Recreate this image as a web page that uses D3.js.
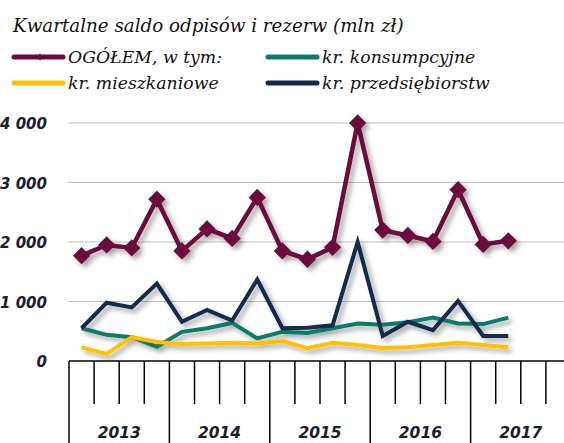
<!DOCTYPE html>
<html>
<head>
<meta charset="utf-8">
<script src="https://cdn.jsdelivr.net/npm/d3@7"></script>
<style>
  html, body { margin: 0; padding: 0; background: #fff; }
  svg { display: block; }
</style>
</head>
<body>
<svg id="chart" width="564" height="443"></svg>
<script>
// ---- data ----
const years = ["2013", "2014", "2015", "2016", "2017"];
const quarters = [];
years.forEach(y => [1, 2, 3, 4].forEach(q => quarters.push(y + "Q" + q)));
const dataQuarters = quarters.slice(0, 18);

const ogolem        = [1770, 1950, 1900, 2720, 1850, 2220, 2060, 2750, 1850, 1710, 1910, 4000, 2200, 2110, 2010, 2880, 1960, 2020];
const konsumpcyjne  = [550, 440, 400, 240, 490, 550, 640, 380, 490, 470, 550, 630, 610, 650, 730, 630, 620, 730];
const mieszkaniowe  = [230, 120, 400, 320, 285, 295, 305, 295, 335, 215, 305, 270, 220, 230, 270, 305, 270, 230];
const przedsiebiorstw = [550, 980, 900, 1300, 660, 860, 680, 1370, 550, 560, 600, 2000, 420, 660, 520, 1010, 420, 420];
const yTicks = [0, 1000, 2000, 3000, 4000];

const titleText = "Kwartalne saldo odpisów i rezerw (mln zł)";
const legendItems = [
  { name: "OGÓŁEM, w tym:", color: "#6B0A3C", marker: true, col: 0, row: 0 },
  { name: "kr. konsumpcyjne", color: "#0E7A6A", marker: false, col: 1, row: 0 },
  { name: "kr. mieszkaniowe", color: "#FFC000", marker: false, col: 0, row: 1 },
  { name: "kr. przedsiębiorstw", color: "#13294B", marker: false, col: 1, row: 1 }
];

const series = [
  { values: konsumpcyjne, color: "#0E7A6A" },
  { values: mieszkaniowe, color: "#FFC000" },
  { values: przedsiebiorstw, color: "#13294B" },
  { values: ogolem, color: "#6B0A3C", marker: true }
];

// ---- layout ----
const svg = d3.select("#chart");
const plotLeft = 69, plotRight = 571, yZero = 361, yTop = 123;

const x = d3.scaleBand().domain(quarters).range([plotLeft, plotRight]).paddingInner(0).paddingOuter(0);
const y = d3.scaleLinear().domain([0, 4000]).range([yZero, yTop]);

const defs = svg.append("defs");
const f = defs.append("filter").attr("id", "shadow")
  .attr("x", "-20%").attr("y", "-20%").attr("width", "140%").attr("height", "140%");
f.append("feDropShadow").attr("dx", 3.5).attr("dy", 3.5).attr("stdDeviation", 2.4)
  .attr("flood-color", "#000").attr("flood-opacity", 0.35);

// title
const serif = "'DejaVu Serif', 'Liberation Serif', serif";
const title = svg.append("text")
  .attr("x", 13).attr("y", 32)
  .style("font-family", serif).style("font-style", "italic")
  .style("font-size", "20px").style("fill", "#111")
  .text(titleText);
(function fit(){
  const w = title.node().getComputedTextLength();
  title.style("font-size", (20 * 391 / w) + "px");
})();

// legend
const legCols = [14, 268];
const legRows = [57, 83];
const leg = svg.append("g");
let legSize = 17;
legendItems.forEach(it => {
  const g = leg.append("g");
  const lx = legCols[it.col], ly = legRows[it.row];
  g.append("line").attr("x1", lx).attr("x2", lx + 49).attr("y1", ly).attr("y2", ly)
    .attr("stroke", it.color).attr("stroke-width", 5).attr("stroke-linecap", "round");
  if (it.marker) {
    g.append("path").attr("d", d3.symbol(d3.symbolDiamond2, 30)())
      .attr("transform", `translate(${lx + 26},${ly})`).attr("fill", it.color);
  }
  g.append("text").attr("class", "legtxt")
    .attr("x", lx + 54).attr("y", ly + 6)
    .style("font-family", serif).style("font-style", "italic")
    .style("font-size", legSize + "px").style("fill", "#111")
    .text(it.name);
});
(function fitLeg(){
  let w = 0;
  leg.selectAll(".legtxt").each(function(){ if (this.textContent === "kr. przedsiębiorstw") w = this.getComputedTextLength(); });
  if (w > 0) leg.selectAll(".legtxt").style("font-size", (legSize * 168 / w) + "px");
})();

// gridlines
svg.append("g").selectAll("line").data(yTicks.filter(v => v > 0)).join("line")
  .attr("x1", plotLeft - 1).attr("x2", plotRight)
  .attr("y1", d => y(d)).attr("y2", d => y(d))
  .attr("stroke", "#BFBFBF").attr("stroke-width", 1.2);

// y labels
const fmt = v => d3.format(",")(v).replace(/,/g, " ");
svg.append("g").selectAll("text").data(yTicks).join("text")
  .attr("x", 47).attr("y", d => y(d) + 6)
  .attr("text-anchor", "end")
  .style("font-family", "'DejaVu Sans', Verdana, sans-serif")
  .style("font-style", "italic").style("font-weight", "bold")
  .style("font-size", "15px").style("fill", "#1B1E2E")
  .text(d => fmt(d));

// x axis line
svg.append("line").attr("x1", plotLeft).attr("x2", plotRight)
  .attr("y1", yZero).attr("y2", yZero).attr("stroke", "#000").attr("stroke-width", 1.5);

// ticks at quarter boundaries
const bounds = d3.range(quarters.length + 1);
svg.append("g").selectAll("line").data(bounds).join("line")
  .attr("x1", i => plotLeft + i * x.bandwidth())
  .attr("x2", i => plotLeft + i * x.bandwidth())
  .attr("y1", yZero)
  .attr("y2", i => (i % 4 === 0) ? 443 : 404)
  .attr("stroke", "#000").attr("stroke-width", 1.5);

// year labels
svg.append("g").selectAll("text").data(years).join("text")
  .attr("x", d => x(d + "Q1") + 2 * x.bandwidth())
  .attr("y", 438)
  .attr("text-anchor", "middle")
  .style("font-family", "'DejaVu Sans', Verdana, sans-serif")
  .style("font-style", "italic").style("font-weight", "bold")
  .style("font-size", "15.5px").style("fill", "#1B1E2E")
  .text(d => d);

// series
const line = d3.line()
  .x((d, i) => x(dataQuarters[i]) + x.bandwidth() / 2)
  .y(d => y(d));

const sg = svg.append("g").attr("filter", "url(#shadow)");
series.forEach(s => {
  sg.append("path").datum(s.values)
    .attr("d", line)
    .attr("fill", "none").attr("stroke", s.color)
    .attr("stroke-width", s.marker ? 4.5 : 4).attr("stroke-linejoin", "miter");
  if (s.marker) {
    sg.append("g").selectAll("path").data(s.values).join("path")
      .attr("d", d3.symbol(d3.symbolDiamond2, 190)())
      .attr("transform", (d, i) => `translate(${x(dataQuarters[i]) + x.bandwidth() / 2},${y(d)})`)
      .attr("fill", s.color);
  }
});
</script>
</body>
</html>
